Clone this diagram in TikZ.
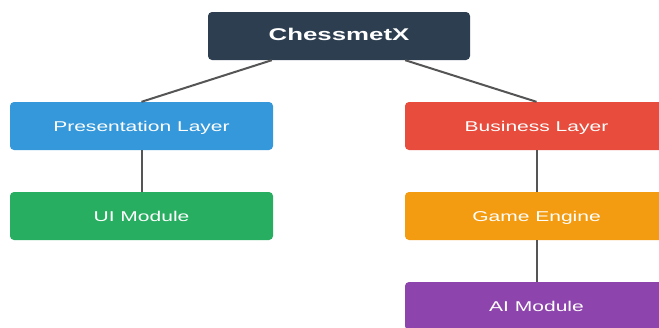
\documentclass[tikz,border=0pt]{standalone}
\usepackage{fontspec}
\newfontfamily\lsans[FakeStretch=1.48]{Liberation Sans}
\newfontfamily\lsansb[FakeStretch=1.52]{Liberation Sans Bold}
\usetikzlibrary{calc}
\definecolor{cdark}{HTML}{2C3E50}
\definecolor{cblue}{HTML}{3498DB}
\definecolor{cred}{HTML}{E74C3C}
\definecolor{cgreen}{HTML}{27AE60}
\definecolor{corange}{HTML}{F39C12}
\definecolor{cpurple}{HTML}{8E44AD}
\definecolor{cline}{HTML}{555555}
\tikzset{
  box/.style={rectangle, rounded corners=4pt, minimum width=263pt, minimum height=48pt,
    inner sep=0pt, text=white, text height=11.4pt, text depth=0pt,
    font=\lsans\fontsize{14.2}{16}\selectfont},
  rootbox/.style={box, minimum width=262pt, text height=9.4pt, text depth=0pt,
    font=\lsansb\fontsize{17}{20}\selectfont},
  link/.style={draw=cline, line width=2pt}
}
\begin{document}
\begin{tikzpicture}[x=1pt,y=-1pt]
\useasboundingbox (0,0) rectangle (659,327);
\clip (0,0) rectangle (659,327);
\fill[white] (0,0) rectangle (659,327);
\node[rootbox, fill=cdark] (root) at (339,36) {ChessmetX};
\node[box, fill=cblue] (pres) at (141.5,126) {Presentation Layer};
\node[box, fill=cgreen] (ui) at (141.5,216) {UI Module};
\node[box, fill=cred] (bus) at (536.5,126) {Business Layer};
\node[box, fill=corange] (game) at (536.5,216) {Game Engine};
\node[box, fill=cpurple] (ai) at (536.5,306) {AI Module};
\coordinate (rl) at ($(root.south west)+(64,0)$);
\coordinate (rr) at ($(root.south east)+(-65,0)$);
\draw[link] (rl) -- (pres.north);
\draw[link] (rr) -- (bus.north);
\draw[link] (pres.south) -- (ui.north);
\draw[link] (bus.south) -- (game.north);
\draw[link] (game.south) -- (ai.north);
\end{tikzpicture}
\end{document}
